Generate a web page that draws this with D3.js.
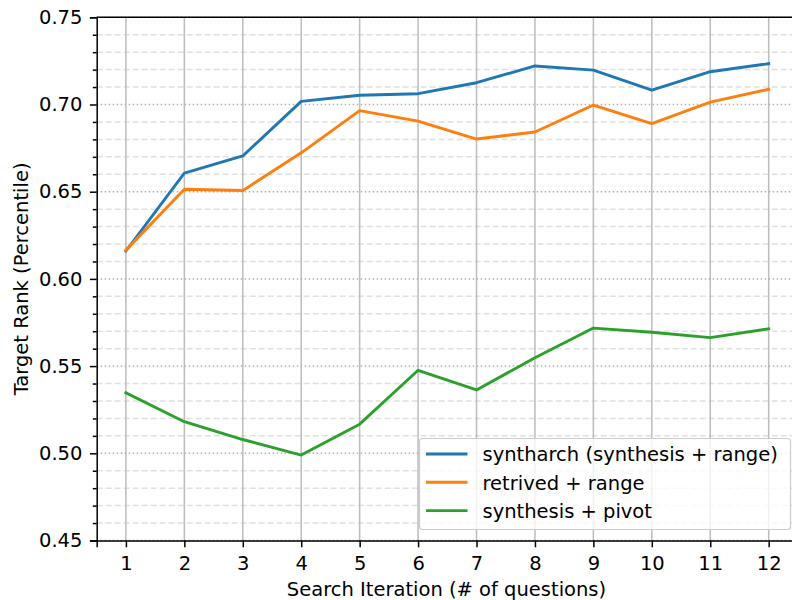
<!DOCTYPE html>
<html><head><meta charset="utf-8">
<script src="https://cdn.jsdelivr.net/npm/d3@7"></script>
<style>body{margin:0;background:#fff;}svg{display:block;font-family:"DejaVu Sans",sans-serif;}</style>
</head><body><svg id="c" width="792" height="600"></svg>
<script>
const iterations = [1,2,3,4,5,6,7,8,9,10,11,12];
const syntharch = [0.616,0.6607,0.6705,0.7018,0.7053,0.7062,0.7125,0.7221,0.7197,0.7083,0.7188,0.7234];
const retrived = [0.6165,0.6514,0.6507,0.6723,0.6965,0.6905,0.6802,0.6842,0.6997,0.6890,0.7014,0.7087];
const pivot = [0.5347,0.5181,0.5079,0.4990,0.5167,0.5476,0.5363,0.5548,0.5718,0.5694,0.5663,0.5714];
const seriesNames = ["syntharch (synthesis + range)","retrived + range","synthesis + pivot"];
const yTicks = [0.45,0.50,0.55,0.60,0.65,0.70,0.75];
const colors = ["#1f77b4","#ff7f0e","#2ca02c"];

const FS = 19.5;
const svg = d3.select("#c");
const L=96.7, R=797.9, T=17.3, B=540.5;
const x = d3.scaleLinear().domain([0.5,12.5]).range([L,R]);
const y = d3.scaleLinear().domain([0.45,0.75]).range([B,T]);
const minor = d3.range(45,76).map(d=>d/100).filter(d=>Math.round(d*100)%5!==0);

const g = svg.append("g");
g.selectAll(".mg").data(minor).enter().append("line")
  .attr("x1",L).attr("x2",R).attr("y1",d=>y(d)).attr("y2",d=>y(d))
  .attr("stroke","#e0e0e0").attr("stroke-width",1.5).attr("stroke-dasharray","6,3");
g.selectAll(".vg").data(iterations).enter().append("line")
  .attr("x1",d=>x(d)).attr("x2",d=>x(d)).attr("y1",T).attr("y2",B)
  .attr("stroke","#bcbcbc").attr("stroke-width",1.5);
g.selectAll(".Mg").data(yTicks).enter().append("line")
  .attr("x1",L).attr("x2",R).attr("y1",d=>y(d)).attr("y2",d=>y(d))
  .attr("stroke","#b0b0b0").attr("stroke-width",1.5).attr("stroke-dasharray","1.5,2.5");

const line = d3.line().x((d,i)=>x(iterations[i])).y(d=>y(d));
[syntharch,retrived,pivot].forEach((s,i)=>{
  svg.append("path").datum(s).attr("d",line).attr("fill","none")
    .attr("stroke",colors[i]).attr("stroke-width",2.9).attr("stroke-linejoin","round").attr("stroke-linecap","square");
});

const xa = svg.append("g").attr("transform",`translate(0,${B})`)
  .call(d3.axisBottom(x).tickValues(iterations).tickFormat(d3.format("d")).tickSize(6.8).tickPadding(9));
const ya = svg.append("g").attr("transform",`translate(${L},0)`)
  .call(d3.axisLeft(y).tickValues(yTicks).tickFormat(d3.format(".2f")).tickSize(6.8).tickPadding(7.5));
const ym = svg.append("g").attr("transform",`translate(${L},0)`)
  .call(d3.axisLeft(y).tickValues(minor).tickFormat("").tickSize(3.9));
ym.select(".domain").remove();
[xa,ya,ym].forEach(a=>{
  a.attr("font-size",FS).attr("font-family","DejaVu Sans");
  a.selectAll("text").attr("font-size",FS).attr("fill","#000");
  a.selectAll("line").attr("stroke","#000").attr("stroke-width",1.5);
  a.select(".domain").attr("stroke","#000").attr("stroke-width",1.5);
});
svg.append("line").attr("x1",L).attr("x2",R).attr("y1",T).attr("y2",T).attr("stroke","#000").attr("stroke-width",1.5);

svg.append("text").attr("x",446.5).attr("y",595.5).attr("text-anchor","middle")
  .attr("font-size",FS).text("Search Iteration (# of questions)");
svg.append("text").attr("transform",`translate(28,${(T+B)/2}) rotate(-90)`).attr("text-anchor","middle")
  .attr("font-size",FS).text("Target Rank (Percentile)");

const lg = svg.append("g");
lg.append("rect").attr("x",419.5).attr("y",438.5).attr("width",371).attr("height",91).attr("rx",3)
  .attr("fill","#fff").attr("fill-opacity",0.8).attr("stroke","#cccccc").attr("stroke-width",1.2);
seriesNames.forEach((n,i)=>{
  const yy = 454 + i*28.3;
  lg.append("line").attr("x1",426).attr("x2",467.5).attr("y1",yy).attr("y2",yy).attr("stroke",colors[i]).attr("stroke-width",2.9);
  lg.append("text").attr("x",482.5).attr("y",yy+7.3).attr("font-size",FS).text(n);
});
</script></body></html>
